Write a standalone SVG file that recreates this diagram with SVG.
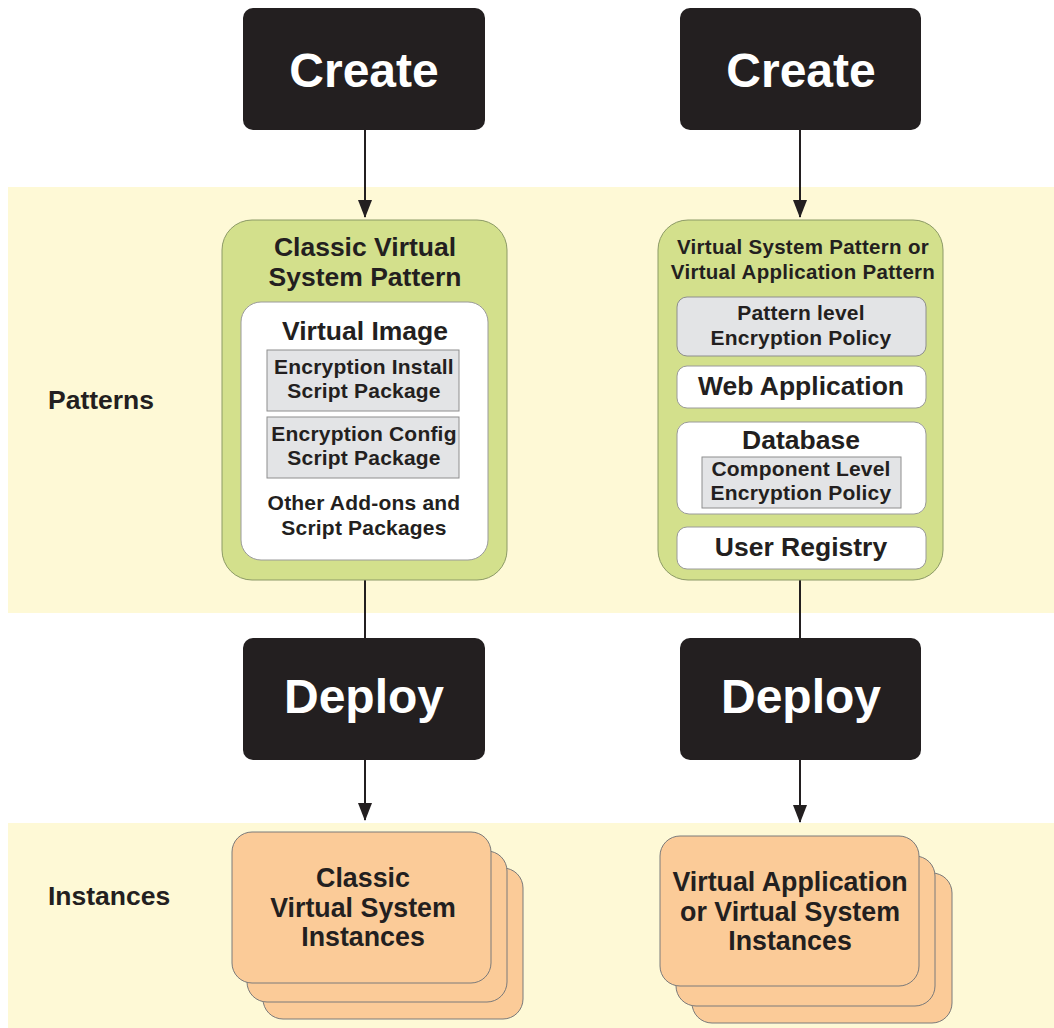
<svg xmlns="http://www.w3.org/2000/svg" width="1054" height="1028" viewBox="0 0 1054 1028">
<style>
text{font-family:"Liberation Sans",Arial,sans-serif;font-weight:bold;fill:#231f20;text-anchor:middle}
.band{fill:#fef9d6}
.blk{fill:#231f20}
.blkt{fill:#fff;font-size:48px}
.green{fill:#d3e08c;stroke:#8c9a66;stroke-width:1}
.white{fill:#fff;stroke:#9a9a9a;stroke-width:1}
.gray{fill:#e3e4e6;stroke:#8e8e8e;stroke-width:1}
.card{fill:#fbcb98;stroke:#7a7a7a;stroke-width:1}
.t24{font-size:26.5px}
.t19{font-size:21px;letter-spacing:0.2px}
.t18{font-size:20.5px;letter-spacing:0.3px}
.t25{font-size:26.8px}
.lbl{font-size:26.5px;text-anchor:start}
.conn{stroke:#231f20;stroke-width:2;fill:none}
</style>
<defs>
<marker id="ah" markerWidth="18" markerHeight="14" refX="17" refY="7" orient="auto" markerUnits="userSpaceOnUse">
<path d="M0,0 L18,7 L0,14 z" fill="#231f20"/>
</marker>
</defs>
<rect width="1054" height="1028" fill="#fff"/>
<g id="bands">
<rect class="band" x="8" y="187" width="1046" height="426"/>
<rect class="band" x="8" y="823" width="1046" height="205"/>
<text class="lbl" x="48" y="409">Patterns</text>
<text class="lbl" x="48" y="905">Instances</text>
</g>
<g id="connectors">
<line class="conn" x1="365" y1="130" x2="365" y2="217" marker-end="url(#ah)"/>
<line class="conn" x1="365" y1="580" x2="365" y2="638"/>
<line class="conn" x1="365" y1="760" x2="365" y2="820" marker-end="url(#ah)"/>
<line class="conn" x1="800" y1="130" x2="800" y2="217" marker-end="url(#ah)"/>
<line class="conn" x1="800" y1="580" x2="800" y2="638"/>
<line class="conn" x1="800" y1="760" x2="800" y2="822" marker-end="url(#ah)"/>
</g>
<g id="create-left">
<rect class="blk" x="243" y="8" width="242" height="122" rx="10"/>
<text class="blkt" x="364" y="87">Create</text>
</g>
<g id="create-right">
<rect class="blk" x="680" y="8" width="241" height="122" rx="10"/>
<text class="blkt" x="801" y="87">Create</text>
</g>
<g id="classic-pattern">
<rect class="green" x="222" y="220" width="285" height="360" rx="30"/>
<text class="t24" x="365" y="256">Classic Virtual</text>
<text class="t24" x="365" y="286">System Pattern</text>
<rect class="white" x="241" y="302" width="247" height="258" rx="20"/>
<text class="t24" x="365" y="340">Virtual Image</text>
<rect class="gray" x="267" y="350" width="192" height="61"/>
<text class="t19" x="364" y="374">Encryption Install</text>
<text class="t19" x="364" y="398">Script Package</text>
<rect class="gray" x="267" y="417" width="192" height="61"/>
<text class="t19" x="364" y="441">Encryption Config</text>
<text class="t19" x="364" y="465">Script Package</text>
<text class="t19" x="364" y="510">Other Add-ons and</text>
<text class="t19" x="364" y="535">Script Packages</text>
</g>
<g id="app-pattern">
<rect class="green" x="658" y="220" width="285" height="360" rx="30"/>
<text class="t18" x="803" y="254">Virtual System Pattern or</text>
<text class="t18" x="803" y="279">Virtual Application Pattern</text>
<rect class="gray" x="677" y="297" width="249" height="59" rx="10"/>
<text class="t19" x="801" y="320">Pattern level</text>
<text class="t19" x="801" y="345">Encryption Policy</text>
<rect class="white" x="677" y="366" width="249" height="42" rx="10"/>
<text class="t24" x="801" y="395">Web Application</text>
<rect class="white" x="677" y="422" width="249" height="92" rx="12"/>
<text class="t24" x="801" y="449">Database</text>
<rect class="gray" x="702" y="457" width="199" height="51"/>
<text class="t19" x="801" y="476">Component Level</text>
<text class="t19" x="801" y="500">Encryption Policy</text>
<rect class="white" x="677" y="527" width="249" height="42" rx="10"/>
<text class="t24" x="801" y="556">User Registry</text>
</g>
<g id="deploy-left">
<rect class="blk" x="243" y="638" width="242" height="122" rx="10"/>
<text class="blkt" x="364" y="713">Deploy</text>
</g>
<g id="deploy-right">
<rect class="blk" x="680" y="638" width="241" height="122" rx="10"/>
<text class="blkt" x="801" y="713">Deploy</text>
</g>
<g id="classic-instances">
<rect class="card" x="263" y="868" width="260" height="151" rx="20"/>
<rect class="card" x="247" y="851" width="260" height="151" rx="20"/>
<rect class="card" x="232" y="832" width="259" height="151" rx="20"/>
<text class="t25" x="363" y="887">Classic</text>
<text class="t25" x="363" y="917">Virtual System</text>
<text class="t25" x="363" y="946">Instances</text>
</g>
<g id="app-instances">
<rect class="card" x="692" y="873" width="260" height="150" rx="20"/>
<rect class="card" x="676" y="856" width="259" height="150" rx="20"/>
<rect class="card" x="660" y="836" width="259" height="150" rx="20"/>
<text class="t25" x="790" y="891">Virtual Application</text>
<text class="t25" x="790" y="921">or Virtual System</text>
<text class="t25" x="790" y="950">Instances</text>
</g>
</svg>
